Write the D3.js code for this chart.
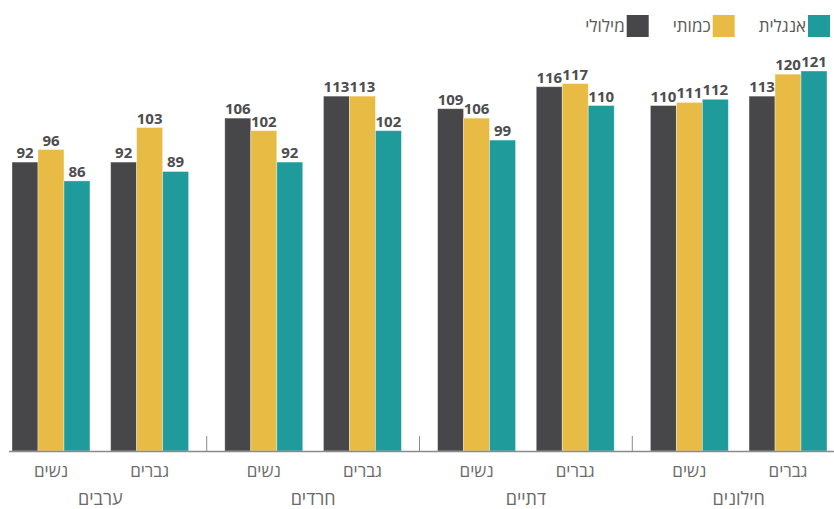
<!DOCTYPE html>
<html lang="he">
<head>
<meta charset="utf-8">
<script src="https://cdn.jsdelivr.net/npm/d3@7"></script>
<style>
  html, body { margin: 0; padding: 0; background: #fff; }
  svg { display: block; font-family: "Open Sans", "DejaVu Sans", sans-serif; }
</style>
</head>
<body>
<svg id="chart" width="834" height="509"></svg>
<script>
// ---- data ----
const groups = ["ערבים", "חרדים", "דתיים", "חילונים"];
const genders = ["נשים", "גברים"];
const series = ["מילולי", "כמותי", "אנגלית"];
const colors = ["#474749", "#e8bb45", "#1f9b9c"];
// values[group][gender][series]
const verbal = [[92, 92], [106, 113], [109, 116], [110, 113]];
const quant  = [[96, 103], [102, 113], [106, 117], [111, 120]];
const english = [[86, 89], [92, 102], [99, 110], [112, 121]];
const seriesValues = [verbal, quant, english];

// ---- layout ----
const svg = d3.select("#chart");
const baseY = 451;

const x0 = d3.scaleBand().domain(groups).range([12, 827]).paddingInner(0.17).paddingOuter(0);
const x1 = d3.scaleBand().domain(genders).range([0, x0.bandwidth()]).paddingInner(0.21).paddingOuter(0);
const x2 = d3.scaleBand().domain(series).range([0, x1.bandwidth()]).padding(0);
const y = d3.scaleLinear().domain([0, 121]).range([baseY, 71]);

const rows = [];
groups.forEach((g, gi) => genders.forEach((s, si) => series.forEach((k, ki) => {
  rows.push({ g, s, k, ki, v: seriesValues[ki][gi][si] });
})));

// bars
svg.append("g").selectAll("rect").data(rows).join("rect")
  .attr("x", d => x0(d.g) + x1(d.s) + x2(d.k))
  .attr("y", d => y(d.v))
  .attr("width", x2.bandwidth())
  .attr("height", d => baseY - y(d.v))
  .attr("fill", d => colors[d.ki])
  .attr("stroke", "#ffffff")
  .attr("stroke-opacity", 0.45)
  .attr("stroke-width", 0.8);

// value labels
svg.append("g").selectAll("text").data(rows).join("text")
  .attr("x", d => x0(d.g) + x1(d.s) + x2(d.k) + x2.bandwidth() / 2)
  .attr("y", d => y(d.v) - 4)
  .attr("text-anchor", "middle")
  .attr("font-size", 15)
  .attr("font-weight", 700)
  .attr("fill", "#4d4d4f")
  .text(d => d.v);

// axis baseline
const axis = d3.axisBottom(x0).tickSize(0).tickFormat("");
const ax = svg.append("g").attr("transform", `translate(0,${baseY})`).call(axis);
ax.select(".domain").remove();
svg.append("line")
  .attr("x1", 9).attr("x2", 834)
  .attr("y1", baseY + 0.5).attr("y2", baseY + 0.5)
  .attr("stroke", "#8a8a8a").attr("stroke-width", 1.5);

// separator ticks between groups
const gap = x0.step() * x0.paddingInner();
svg.append("g").selectAll("line").data(groups.slice(1)).join("line")
  .attr("x1", d => x0(d) - gap / 2).attr("x2", d => x0(d) - gap / 2)
  .attr("y1", baseY - 15).attr("y2", baseY)
  .attr("stroke", "#8a8a8a").attr("stroke-width", 1);

// gender labels
const gl = [];
groups.forEach(g => genders.forEach(s => gl.push({ g, s })));
svg.append("g").selectAll("text").data(gl).join("text")
  .attr("x", d => x0(d.g) + x1(d.s) + x1.bandwidth() / 2)
  .attr("y", 477)
  .attr("text-anchor", "middle")
  .attr("font-size", 17)
  .attr("fill", "#6a6a6a")
  .text(d => d.s);

// group labels
svg.append("g").selectAll("text").data(groups).join("text")
  .attr("x", d => x0(d) + x0.bandwidth() / 2)
  .attr("y", 505)
  .attr("text-anchor", "middle")
  .attr("font-size", 18)
  .attr("fill", "#6a6a6a")
  .text(d => d);

// legend (right to left)
const legend = svg.append("g");
let right = 830;
[2, 1, 0].forEach(ki => {
  legend.append("rect")
    .attr("x", right - 22).attr("y", 15)
    .attr("width", 22).attr("height", 22)
    .attr("fill", colors[ki]);
  const t = legend.append("text")
    .attr("x", right - 24).attr("y", 32)
    .attr("text-anchor", "end")
    .attr("font-size", 17)
    .attr("fill", "#5a5a5a")
    .text(series[ki]);
  const w = t.node().getComputedTextLength();
  right = right - 24 - w - 24;
});
</script>
</body>
</html>
